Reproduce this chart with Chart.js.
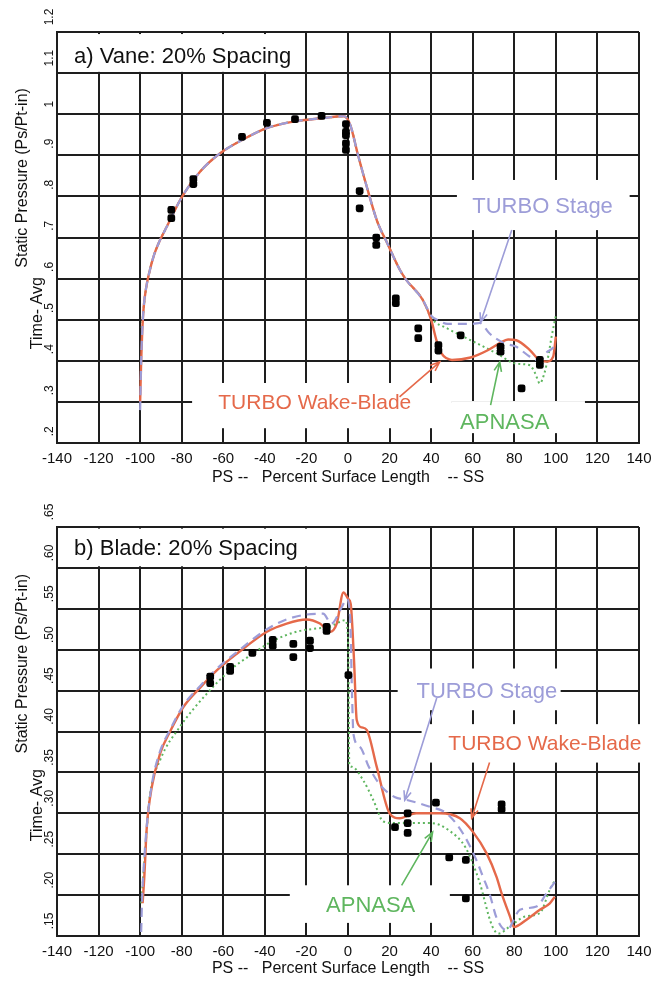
<!DOCTYPE html>
<html>
<head>
<meta charset="utf-8">
<script src="https://cdn.jsdelivr.net/npm/chart.js@4.4.1/dist/chart.umd.min.js"></script>
<style>
  body { margin: 0; background: #fff; }
  canvas { position: absolute; left: 0; }
</style>
</head>
<body>
<canvas id="vaneChart" width="661" height="490" style="top:0"></canvas>
<canvas id="bladeChart" width="661" height="491" style="top:490px"></canvas>
<script>
const FONT = '"Liberation Sans", Arial, Helvetica, sans-serif';
const GRID = '#1e1e1e';
const ORANGE = '#e5694a';
const LAVENDER = '#9d9dd8';
const GREEN = '#5fb65f';

// x axis shared by both panels: pressure side negative, suction side positive
const xTicks = [-140, -120, -100, -80, -60, -40, -20, 0, 20, 40, 60, 80, 100, 120, 140];
const xTitle = 'PS --   Percent Surface Length    -- SS';
const yTitleLines = ['Static Pressure (Ps/Pt-in)', 'Time- Avg'];

// a) vane
const vaneYTicks = [0.2, 0.3, 0.4, 0.5, 0.6, 0.7, 0.8, 0.9, 1.0, 1.1, 1.2];
const vaneYLabels = ['.2', '.3', '.4', '.5', '.6', '.7', '.8', '.9', '1', '1.1', '1.2'];

const vaneWakeX = [-100, -99.5, -99, -98.3, -97.2, -95.6, -93.6, -90.5, -87.2, -80.3, -71.2, -61.5, -50.3, -39.1, -26.3, -13, -2, 1, 5, 9, 14, 19, 25, 28, 36, 40, 42.5, 45, 47.5, 50, 59, 67, 73, 77, 81, 87.5, 92, 95.5, 98.7, 100];
const vaneWakeY = [0.30, 0.40, 0.47, 0.53, 0.575, 0.615, 0.653, 0.693, 0.726, 0.795, 0.86, 0.905, 0.939, 0.966, 0.982, 0.99, 0.995, 0.975, 0.897, 0.824, 0.74, 0.685, 0.621, 0.597, 0.548, 0.50, 0.451, 0.418, 0.406, 0.402, 0.408, 0.425, 0.443, 0.452, 0.45, 0.426, 0.402, 0.398, 0.41, 0.459];

const vaneStageX = [-100, -99.5, -99, -98.3, -97.2, -95.6, -93.6, -90.5, -87.2, -80.3, -71.2, -61.5, -50.3, -39.1, -26.3, -13, -2, 1, 5, 9, 14, 19, 25, 28, 36, 40, 44, 48, 55, 60, 63.5, 68, 75, 81, 87.5, 92, 95.5, 99, 100];
const vaneStageY = [0.28, 0.40, 0.47, 0.53, 0.575, 0.615, 0.653, 0.693, 0.726, 0.795, 0.86, 0.905, 0.939, 0.966, 0.982, 0.99, 0.995, 0.975, 0.897, 0.824, 0.74, 0.685, 0.621, 0.597, 0.548, 0.51, 0.497, 0.49, 0.49, 0.49, 0.492, 0.467, 0.443, 0.434, 0.41, 0.40, 0.42, 0.434, 0.445];

const vaneApnasaX = [-99.3, -99, -98.3, -97.2, -95.6, -93.6, -90.5, -87.2, -80.3, -71.2, -61.5, -50.3, -39.1, -26.3, -13, -2, 1, 5, 9, 14, 19, 25, 28, 36, 40, 48, 55.4, 63, 71.5, 81, 87.5, 90, 92.3, 94.5, 96.3, 98, 100];
const vaneApnasaY = [0.48, 0.49, 0.53, 0.575, 0.615, 0.653, 0.693, 0.726, 0.795, 0.86, 0.905, 0.939, 0.966, 0.982, 0.99, 0.995, 0.975, 0.897, 0.824, 0.74, 0.685, 0.621, 0.597, 0.548, 0.505, 0.478, 0.459, 0.44, 0.418, 0.393, 0.389, 0.37, 0.345, 0.37, 0.41, 0.46, 0.51];

const vaneExpX = [-85, -85, -74.4, -74.4, -51, -39, -25.5, -12.7, -1, -1, -1, -1, -1, 5.6, 5.6, 13.6, 13.6, 23, 23, 33.8, 33.8, 43.5, 43.5, 54.2, 73.4, 73.4, 83.5, 92.3, 92.3];
const vaneExpY = [0.767, 0.747, 0.842, 0.83, 0.945, 0.979, 0.988, 0.996, 0.976, 0.957, 0.949, 0.929, 0.913, 0.813, 0.771, 0.70, 0.682, 0.552, 0.54, 0.479, 0.455, 0.438, 0.425, 0.462, 0.434, 0.422, 0.333, 0.402, 0.39];

// b) blade
const bladeYTicks = [0.15, 0.2, 0.25, 0.3, 0.35, 0.4, 0.45, 0.5, 0.55, 0.6, 0.65];
const bladeYLabels = ['.15', '.20', '.25', '.30', '.35', '.40', '.45', '.50', '.55', '.60', '.65'];

const bladeWakeX = [-98.8, -98, -96.8, -94.4, -90.4, -85.6, -79.2, -71, -63, -53.5, -39, -29.5, -20, -13.5, -8.7, -5.4, -2.2, 0.2, 1.3, 2.9, 4.2, 6.6, 9, 13.8, 20, 24.8, 32.8, 44.2, 53.8, 60.2, 66.7, 71.5, 73.9, 77.9, 79.8, 85.9, 92.3, 97.1, 99.5];
const bladeWakeY = [0.19, 0.222, 0.283, 0.332, 0.373, 0.40, 0.43, 0.454, 0.475, 0.495, 0.522, 0.532, 0.537, 0.532, 0.522, 0.532, 0.570, 0.562, 0.556, 0.487, 0.414, 0.405, 0.402, 0.357, 0.30, 0.294, 0.30, 0.30, 0.294, 0.277, 0.251, 0.222, 0.202, 0.174, 0.161, 0.17, 0.182, 0.19, 0.198];

const bladeStageX = [-99.5, -99, -98, -96.8, -94.4, -90.4, -85.6, -79.2, -71, -63, -53.5, -39, -29.5, -20, -12, -8, -3, -0.7, 1, 2, 2.6, 5.8, 10, 16, 22.4, 28.8, 39.4, 47.4, 55.4, 61.9, 65, 68.3, 71.5, 76.3, 82.7, 90.7, 95.5, 99.5];
const bladeStageY = [0.155, 0.2, 0.245, 0.285, 0.335, 0.376, 0.402, 0.432, 0.456, 0.477, 0.497, 0.525, 0.537, 0.543, 0.544, 0.532, 0.552, 0.562, 0.54, 0.44, 0.397, 0.381, 0.357, 0.333, 0.32, 0.316, 0.308, 0.30, 0.275, 0.242, 0.222, 0.2, 0.172, 0.157, 0.182, 0.186, 0.202, 0.216];

const bladeApnasaX = [-99.5, -98, -96.5, -95.2, -90.4, -80.8, -68, -56.7, -47.1, -35.9, -24.7, -15.1, -8.7, -1.4, 0, 0.3, 0.6, 1.8, 7.4, 12.2, 17, 22.4, 32.2, 40.2, 48.6, 56.6, 63, 69.4, 72.6, 77.5, 85.4, 92.3, 97, 99.5];
const bladeApnasaY = [0.19, 0.24, 0.29, 0.324, 0.365, 0.406, 0.446, 0.475, 0.493, 0.511, 0.522, 0.526, 0.528, 0.536, 0.515, 0.45, 0.36, 0.357, 0.34, 0.316, 0.29, 0.288, 0.288, 0.288, 0.279, 0.258, 0.218, 0.162, 0.153, 0.161, 0.174, 0.178, 0.206, 0.218];

const bladeExpX = [-66.3, -66.3, -56.7, -56.7, -46, -36.2, -36.2, -26.3, -26.3, -18.3, -18.3, -10.3, -10.3, 0.2, 22.6, 28.7, 28.7, 28.7, 42.3, 48.7, 56.7, 56.7, 73.9, 73.9];
const bladeExpY = [0.467, 0.459, 0.479, 0.474, 0.496, 0.512, 0.505, 0.507, 0.491, 0.511, 0.502, 0.528, 0.523, 0.469, 0.283, 0.30, 0.288, 0.276, 0.313, 0.246, 0.243, 0.196, 0.311, 0.305];

// labels, white backing boxes and pointer arrows, in axis units
const vaneNotes = {
  boxes: [[-139, 1.195, -21.6, 1.103], [52.4, 0.84, 135.5, 0.718], [-75, 0.346, 50, 0.236], [50, 0.302, 114, 0.224]],
  labels: [
    { text: 'a) Vane: 20% Spacing', x: -131.8, y: 1.139, color: '#111', size: 22, align: 'left' },
    { text: 'TURBO Stage', x: 93.6, y: 0.774, color: LAVENDER, size: 22 },
    { text: 'TURBO Wake-Blade', x: -62.4, y: 0.297, color: ORANGE, size: 21, align: 'left' },
    { text: 'APNASA', x: 75.4, y: 0.249, color: GREEN, size: 22 }
  ],
  arrows: [
    { from: [78.8, 0.718], to: [63.8, 0.494], color: LAVENDER },
    { from: [24.8, 0.312], to: [44.1, 0.397], color: ORANGE },
    { from: [68.6, 0.292], to: [73.0, 0.397], color: GREEN }
  ],
  titleY: [0.845, 0.516]
};

const bladeNotes = {
  boxes: [[-139, 0.648, -4, 0.602], [23.9, 0.477, 102.3, 0.426], [35.4, 0.409, 148.5, 0.362], [-28, 0.212, 49, 0.166]],
  labels: [
    { text: 'b) Blade: 20% Spacing', x: -131.8, y: 0.623, color: '#111', size: 22, align: 'left' },
    { text: 'TURBO Stage', x: 66.8, y: 0.448, color: LAVENDER, size: 22 },
    { text: 'TURBO Wake-Blade', x: 94.7, y: 0.385, color: ORANGE, size: 21 },
    { text: 'APNASA', x: 10.9, y: 0.187, color: GREEN, size: 22 }
  ],
  arrows: [
    { from: [42.7, 0.441], to: [27.3, 0.316], color: LAVENDER },
    { from: [68.1, 0.362], to: [59.5, 0.294], color: ORANGE },
    { from: [25.8, 0.212], to: [40.7, 0.277], color: GREEN }
  ],
  titleY: [0.483, 0.31]
};

function pts(xs, ys) {
  return xs.map((x, i) => ({ x: x, y: ys[i] }));
}

function curve(label, xs, ys, color, dash, width) {
  return {
    label: label,
    data: pts(xs, ys),
    showLine: true,
    borderColor: color,
    borderWidth: width,
    borderDash: dash,
    pointRadius: 0,
    cubicInterpolationMode: 'monotone',
    fill: false
  };
}

function drawArrow(ctx, x0, y0, x1, y1, color) {
  const a = Math.atan2(y1 - y0, x1 - x0);
  const h = 10;
  ctx.strokeStyle = color;
  ctx.lineWidth = 1.6;
  ctx.beginPath();
  ctx.moveTo(x0, y0);
  ctx.lineTo(x1, y1);
  ctx.moveTo(x1 - h * Math.cos(a - 0.38), y1 - h * Math.sin(a - 0.38));
  ctx.lineTo(x1, y1);
  ctx.lineTo(x1 - h * Math.cos(a + 0.38), y1 - h * Math.sin(a + 0.38));
  ctx.stroke();
}

function notesPlugin(notes) {
  return {
    id: 'notes',
    beforeDatasetsDraw(chart) {
      const { ctx } = chart;
      const sx = chart.scales.x, sy = chart.scales.y;
      ctx.save();
      ctx.fillStyle = '#fff';
      notes.boxes.forEach(b => {
        const x0 = sx.getPixelForValue(b[0]), x1 = sx.getPixelForValue(b[2]);
        const y0 = sy.getPixelForValue(b[1]), y1 = sy.getPixelForValue(b[3]);
        ctx.fillRect(x0, y0, x1 - x0, y1 - y0);
      });
      ctx.textBaseline = 'middle';
      notes.labels.forEach(l => {
        ctx.font = l.size + 'px ' + FONT;
        ctx.fillStyle = l.color;
        ctx.textAlign = l.align || 'center';
        ctx.fillText(l.text, sx.getPixelForValue(l.x), sy.getPixelForValue(l.y));
      });
      ctx.restore();
    },
    afterDatasetsDraw(chart) {
      const { ctx } = chart;
      const sx = chart.scales.x, sy = chart.scales.y;
      ctx.save();
      notes.arrows.forEach(a => {
        drawArrow(ctx,
          sx.getPixelForValue(a.from[0]), sy.getPixelForValue(a.from[1]),
          sx.getPixelForValue(a.to[0]), sy.getPixelForValue(a.to[1]), a.color);
      });
      ctx.restore();
    },
    afterDraw(chart) {
      // two-line rotated y title, staggered like the original plot
      const { ctx, chartArea } = chart;
      const sy = chart.scales.y;
      ctx.save();
      ctx.font = '16px ' + FONT;
      ctx.fillStyle = '#111';
      ctx.textAlign = 'center';
      ctx.textBaseline = 'middle';
      yTitleLines.forEach((t, i) => {
        ctx.save();
        ctx.translate(chartArea.left - 34 + i * 15, sy.getPixelForValue(notes.titleY[i]));
        ctx.rotate(-Math.PI / 2);
        ctx.fillText(t, 0, 0);
        ctx.restore();
      });
      ctx.restore();
    }
  };
}

function makePanel(id, yTicks, yLabels, series, notes, top, xHeight) {
  const ctx = document.getElementById(id).getContext('2d');
  return new Chart(ctx, {
    type: 'scatter',
    data: {
      datasets: [
        {
          label: 'Data',
          data: pts(series.expX, series.expY),
          pointStyle: 'rectRounded',
          pointRadius: 4.5,
          backgroundColor: '#000',
          borderColor: '#000',
          borderWidth: 0
        },
        curve('TURBO Stage', series.stageX, series.stageY, LAVENDER, [9, 6], 2.2),
        curve('TURBO Wake-Blade', series.wakeX, series.wakeY, ORANGE, [], 2.4),
        curve('APNASA', series.apnasaX, series.apnasaY, GREEN, [2, 3], 2)
      ]
    },
    options: {
      responsive: false,
      animation: false,
      layout: { padding: { left: 50, right: 22, top: top, bottom: 0 } },
      plugins: { legend: { display: false }, tooltip: { enabled: false } },
      scales: {
        x: {
          type: 'linear',
          min: -140,
          max: 140,
          afterBuildTicks: s => { s.ticks = xTicks.map(v => ({ value: v })); },
          afterFit: s => { s.height = xHeight; },
          grid: { color: GRID, lineWidth: 2, drawTicks: false },
          border: { color: GRID, width: 2 },
          ticks: {
            autoSkip: false,
            maxRotation: 0,
            padding: 7,
            color: '#111',
            font: { family: FONT, size: 15 },
            callback: v => String(v)
          },
          title: {
            display: true,
            text: xTitle,
            color: '#111',
            font: { family: FONT, size: 16 },
            padding: { top: 0, bottom: 3 }
          }
        },
        y: {
          type: 'linear',
          min: yTicks[0],
          max: yTicks[yTicks.length - 1],
          afterBuildTicks: s => { s.ticks = yTicks.map(v => ({ value: v })); },
          afterFit: s => { s.width = 7; },
          grid: { color: GRID, lineWidth: 2, drawTicks: false },
          border: { color: GRID, width: 2 },
          ticks: {
            autoSkip: false,
            minRotation: 90,
            maxRotation: 90,
            // mirrored with a negative pad puts the rotated labels just left of the frame,
            // each one starting a little above its grid line
            mirror: true,
            padding: -7,
            crossAlign: 'near',
            color: '#111',
            font: { family: FONT, size: 12 },
            callback: (v, i) => '  ' + yLabels[i]
          }
        }
      }
    },
    plugins: [notesPlugin(notes)]
  });
}

makePanel('vaneChart', vaneYTicks, vaneYLabels, {
  expX: vaneExpX, expY: vaneExpY,
  stageX: vaneStageX, stageY: vaneStageY,
  wakeX: vaneWakeX, wakeY: vaneWakeY,
  apnasaX: vaneApnasaX, apnasaY: vaneApnasaY
}, vaneNotes, 32, 47);

makePanel('bladeChart', bladeYTicks, bladeYLabels, {
  expX: bladeExpX, expY: bladeExpY,
  stageX: bladeStageX, stageY: bladeStageY,
  wakeX: bladeWakeX, wakeY: bladeWakeY,
  apnasaX: bladeApnasaX, apnasaY: bladeApnasaY
}, bladeNotes, 37, 45);
</script>
</body>
</html>
